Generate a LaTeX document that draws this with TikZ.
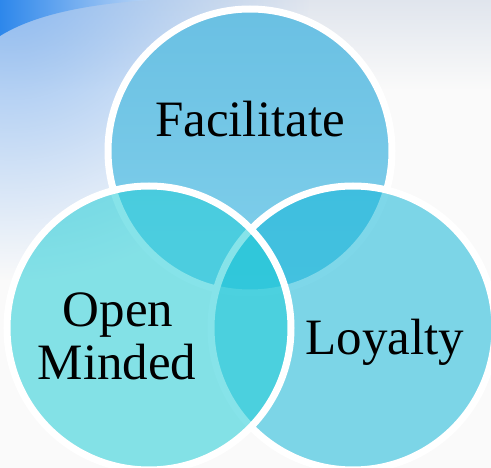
\documentclass[tikz,border=0pt]{standalone}
\usepackage{fontspec}
\setmainfont{Liberation Serif}
\usetikzlibrary{fadings}

\definecolor{facTop}{RGB}{106,192,227}
\definecolor{facBot}{RGB}{129,208,235}
\definecolor{loyFill}{RGB}{13,181,215}
\definecolor{openFill}{RGB}{35,205,215}
\definecolor{skyBlue}{RGB}{45,135,235}
\definecolor{skyPale}{RGB}{140,185,240}
\definecolor{skyGrey}{RGB}{224,229,237}

\tikzfading[name=skyfade, inner color=transparent!0, outer color=transparent!100]

\tikzset{
    venn/.style={circle, minimum size=284pt, inner sep=0pt, draw=white, line width=7pt},
    label/.style={font=\fontsize{51}{60}\selectfont, anchor=base}
}

\begin{document}
\begin{tikzpicture}[x=1pt, y=-1pt]
    \useasboundingbox (0,0) rectangle (491,468);
    \clip (0,0) rectangle (491,468);
    % background
    \fill[white!98!black] (0,0) rectangle (491,468);
    \shade[top color=skyGrey, bottom color=white!98!black] (0,0) rectangle (491,90);
    \fill[skyPale, path fading=skyfade] (10,-20) circle (300pt);
    \shade[left color=skyBlue, right color=skyPale!60]
        (0,0) -- (150,0) .. controls (90,4) and (35,14) .. (0,36) -- cycle;
    % circles
    \node[venn, top color=facTop, bottom color=facBot] (fac) at (250,151) {};
    \node[venn, fill=loyFill, fill opacity=0.53, draw opacity=1] (loy) at (353,328) {};
    \node[venn, fill=openFill, fill opacity=0.55, draw opacity=1] (open) at (149,328) {};
    % labels
    \node[label] (facText) at (250,137) {Facilitate};
    \node[label] (loyText) at (385,355) {Loyalty};
    \node[label] (openText) at (118,327) {Open};
    \node[label] (mindText) at (117,380) {Minded};
\end{tikzpicture}
\end{document}
